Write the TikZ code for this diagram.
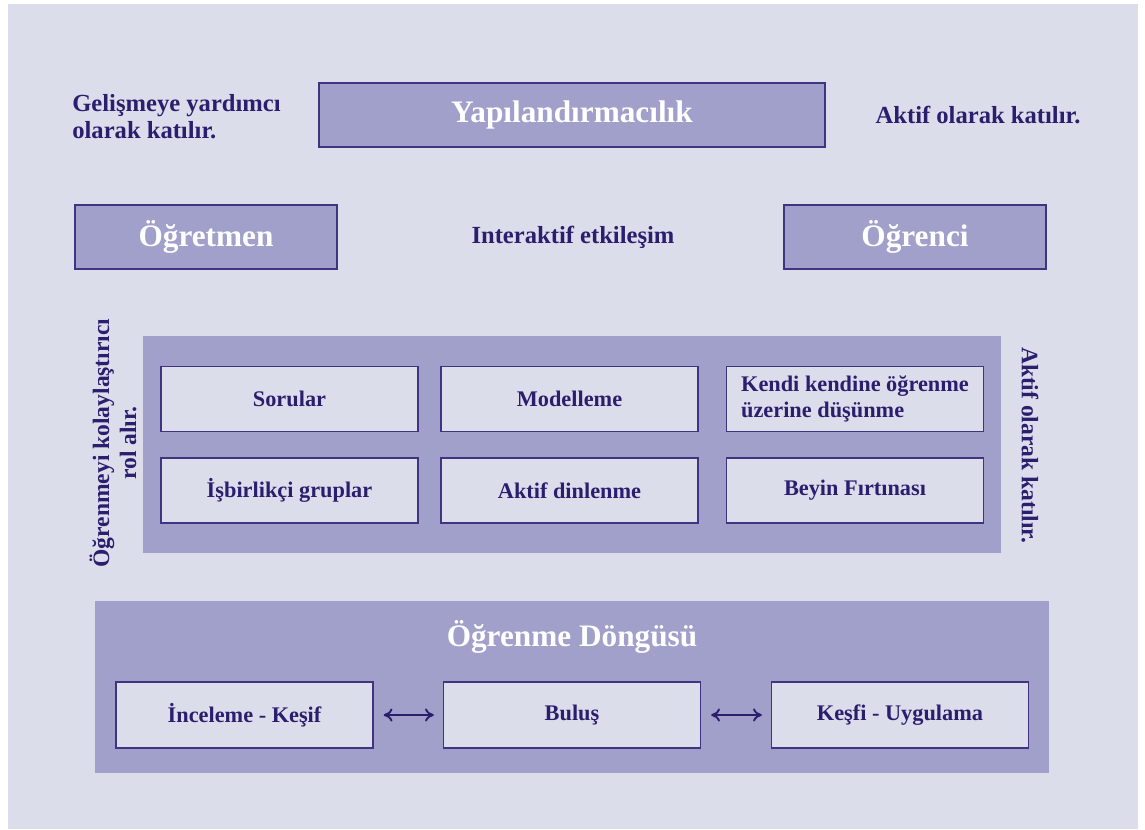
\documentclass[tikz,border=0pt]{standalone}
\usepackage{xcolor}
\usepackage{fontspec}
\setmainfont{Liberation Serif}
\usetikzlibrary{arrows.meta}
\definecolor{zemin}{RGB}{220,221,234}
\definecolor{kutu}{RGB}{160,160,202}
\definecolor{cerceve}{RGB}{62,52,130}
\definecolor{yazi}{RGB}{42,30,110}
\newcommand{\Baslik}{\fontsize{17.8}{21}\selectfont\bfseries}
\newcommand{\Aciklama}{\fontsize{14}{15.4}\selectfont\bfseries}
\newcommand{\Dikey}{\fontsize{13.4}{15.4}\selectfont\bfseries}
\newcommand{\Madde}{\fontsize{12.7}{14.6}\selectfont\bfseries}
\tikzstyle{baslik}=[draw=cerceve, line width=0.8pt, fill=kutu, text=white, inner sep=0pt, minimum height=1.28cm, font=\Baslik]
\tikzstyle{madde}=[draw=cerceve, line width=0.8pt, fill=zemin, text=yazi, inner sep=0pt, minimum width=5.14cm, minimum height=1.3cm, font=\Madde]
\tikzstyle{panel}=[fill=kutu, inner sep=0pt]
\tikzstyle{aciklama}=[text=yazi, font=\Aciklama]
\tikzstyle{gecis}=[{To[length=5pt,width=7.5pt]}-{To[length=5pt,width=7.5pt]}, yazi, line width=1.1pt, shorten <=0.2cm, shorten >=0.18cm]

\begin{document}
\begin{tikzpicture}[x=0.02cm,y=-0.02cm]
  \useasboundingbox (0,0) rectangle (1145,829);
  \fill[zemin] (8,4) rectangle (1138,829);

  %% Top row
  \draw (572,115) node[baslik, minimum width=10.12cm] (yapi) {Yapılandırmacılık};
  \draw (72,117) node[aciklama, anchor=west, align=left, inner sep=0pt] (gelisme) {Gelişmeye yardımcı\\olarak katılır.};
  \draw (978,115) node[aciklama] (aktif) {Aktif olarak katılır.};

  \draw (206,237) node[baslik, minimum width=5.24cm] (ogretmen) {Öğretmen};
  \draw (573,237) node[aciklama] (etkilesim) {Interaktif etkileşim};
  \draw (915,237) node[baslik, minimum width=5.24cm] (ogrenci) {Öğrenci};

  %% Middle panel
  \draw (572,444.5) node[panel, minimum width=17.16cm, minimum height=4.34cm] (yontem) {};
  \draw (289.5,399) node[madde] (sorular) {Sorular};
  \draw (569.5,399) node[madde] (model) {Modelleme};
  \draw (855,399) node[madde, align=left] (kendi) {Kendi kendine öğrenme\\üzerine düşünme};
  \draw (289.5,490.5) node[madde] (isbirligi) {İşbirlikçi gruplar};
  \draw (569.5,490.5) node[madde] (dinleme) {Aktif dinlenme};
  \draw (855,490.5) node[madde] (beyin) {Beyin Fırtınası};

  \draw (113,443) node[aciklama, rotate=90, align=center, font=\Dikey] (ogretmenrol) {Öğrenmeyi kolaylaştırıcı\\rol alır.};
  \draw (1030,445) node[aciklama, rotate=-90, font=\Dikey] (ogrencirol) {Aktif olarak katılır.};

  %% Learning cycle
  \draw (572,687) node[panel, minimum width=19.08cm, minimum height=3.44cm] (dongu) {};
  \draw (572,637) node[text=white, font=\Baslik] (donguad) {Öğrenme Döngüsü};
  \draw (244.5,715) node[madde, minimum height=1.32cm] (inceleme) {İnceleme - Keşif};
  \draw (572,715) node[madde, minimum height=1.32cm] (bulus) {Buluş};
  \draw (900,715) node[madde, minimum height=1.32cm] (uygulama) {Keşfi - Uygulama};

  \draw[gecis] (inceleme) -- (bulus);
  \draw[gecis] (bulus) -- (uygulama);
\end{tikzpicture}
\end{document}
